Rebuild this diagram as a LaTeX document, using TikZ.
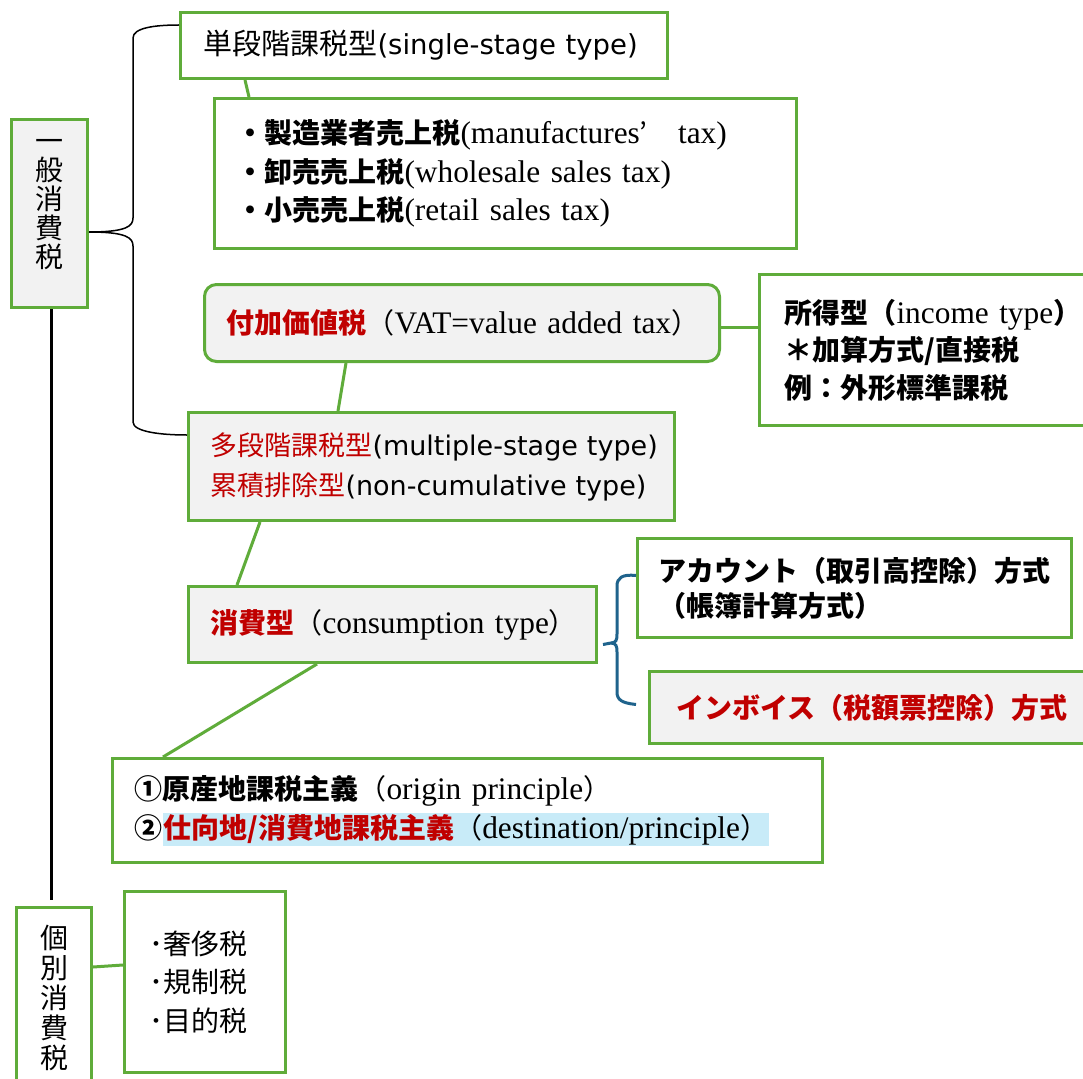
\documentclass[tikz,border=0pt]{standalone}
\usepackage{fontspec}
\setmainfont{Liberation Serif}[Scale=1.12]
\newfontfamily\jp{Noto Sans CJK JP}
\newfontfamily\dsans{DejaVu Sans}
\usetikzlibrary{calc}
\definecolor{gr}{RGB}{95,172,58}
\definecolor{bgray}{RGB}{242,242,242}
\definecolor{myred}{RGB}{192,0,0}
\definecolor{bl}{RGB}{31,99,140}
\definecolor{hl}{RGB}{200,235,248}
\setlength{\fboxsep}{1pt}
\newcommand\jb[1]{{\jp\bfseries #1}}
\newcommand\os[2]{{\dsans\fontsize{#1}{30}\selectfont #2}}
\begin{document}
\begin{tikzpicture}[x=1pt,y=-1pt,
  box/.style={draw=gr, line width=3pt, anchor=north west, inner ysep=0pt, align=left,
    font=\fontsize{28}{38}\selectfont},
  vbox/.style={draw=gr, line width=3pt, anchor=north west, inner sep=0pt, align=center},
  conn/.style={draw=gr, line width=3pt},
  brk/.style={draw=black, line width=1.5pt},
  blbr/.style={draw=bl, line width=3pt}]
\path[use as bounding box, fill=white] (0,0) rectangle (1083,1078);

% nodes
\node[vbox, fill=bgray, minimum width=76, minimum height=188,
  font=\jp\fontsize{28}{29}\selectfont] (ippan) at (10,118)
  {一\\般\\消\\費\\税\\[-9pt]\mbox{}};
\node[box, minimum width=487, minimum height=66, inner xsep=23, text width=441,
  font=\jp\fontsize{29}{34}\selectfont] (tandan) at (179,11)
  {\mbox{単段階課税型\os{27.5}{(single-stage type)}}};
\node[box, minimum width=582, minimum height=150, inner xsep=22, text width=538,
  font=\fontsize{28}{38.5}\selectfont] (bul1) at (213,97)
  {\mbox{\jb{・製造業者売上税}(manufactures{\jp ’}\hspace{20pt} tax)}\\
   \mbox{\jb{・卸売売上税}(wholesale sales tax)}\\
   \mbox{\jb{・小売売上税}(retail sales tax)}};
\node[box, fill=bgray, rounded corners=12pt, minimum width=515, minimum height=77,
  inner xsep=22, text width=471] (vat) at (203,283)
  {\mbox{\jb{\color{myred}付加価値税}{\jp （}VAT=value added tax{\jp ）}}};
\node[box, minimum width=340, minimum height=151, inner xsep=25, text width=290,
  font=\fontsize{28}{37.5}\selectfont] (shotoku) at (758,273)
  {\mbox{\jb{所得型（}income type\jb{）}}\\
   \mbox{\jb{＊加算方式/直接税}}\\
   \mbox{\jb{例：外形標準課税}}};
\node[box, fill=bgray, minimum width=486, minimum height=108, inner xsep=22, text width=442,
  font=\jp\fontsize{27}{40}\selectfont] (tadan) at (187,411)
  {\mbox{{\color{myred}多段階課税型}\os{27}{(multiple-stage type)}}\\
   \mbox{{\color{myred}累積排除型}\os{27}{(non-cumulative type)}}};
\node[box, fill=bgray, minimum width=408, minimum height=76, inner xsep=22, text width=364]
  (shohi) at (187,585)
  {\mbox{\jb{\color{myred}消費型}{\jp （}consumption type{\jp ）}}};
\node[box, minimum width=434, minimum height=99, inner xsep=21, text width=392,
  font=\fontsize{28}{35}\selectfont] (account) at (636,537)
  {\mbox{\jb{アカウント（取引高控除）方式}}\\
   \mbox{\jb{（帳簿計算方式）}}};
\node[box, fill=bgray, minimum width=440, minimum height=72, inner xsep=27, text width=386]
  (invoice) at (648,670)
  {\mbox{\jb{\color{myred}インボイス（税額票控除）方式}}};
\node[box, minimum width=710, minimum height=104, inner xsep=22, text width=666,
  font=\fontsize{28}{39}\selectfont] (origin) at (111,757)
  {\mbox{\jb{①原産地課税主義}{\jp （}origin principle{\jp ）}}\\
   \mbox{\jb{②}\colorbox{hl}{\jb{\color{myred}仕向地/消費地課税主義}{\jp （}destination/principle{\jp ）}}}};
\node[vbox, minimum width=75, minimum height=180,
  font=\jp\fontsize{28}{30}\selectfont] (kobetsu) at (15,906)
  {個\\別\\消\\費\\税};
\node[box, minimum width=161, minimum height=181, inner xsep=25, text width=111,
  font=\jp\fontsize{28}{38.5}\selectfont] (bul2) at (123,890)
  {\mbox{･奢侈税}\\ \mbox{･規制税}\\ \mbox{･目的税}};

% black brace and trunk
\coordinate (bj) at ($(ippan.north east)+(0,114)$);
\coordinate (bt) at ($(tandan.north west)+(0,14)$);
\coordinate (bb) at ($(tadan.north west)+(0,24)$);
\draw[brk] (bj) .. controls +(38,0) and +(0,8) .. (133,218) -- (133,38)
  .. controls +(0,-10) and +(-25,0) .. (bt);
\draw[brk] (bj) .. controls +(38,0) and +(0,-8) .. (133,246) -- (133,422)
  .. controls +(0,10) and +(-25,0) .. (bb);
\coordinate (vtop) at ($(ippan.south)+(2,0)$);
\coordinate (vbot) at ($(kobetsu.north)+(-2.5,-6)$);
\draw[black, line width=2.5pt] (vtop) -- (vtop |- vbot);

% green connectors
\draw[conn] ($(tandan.south west)+(66,0)$) -- ($(bul1.north west)+(36,0)$);
\draw[conn] ($(vat.south west)+(143,0)$) -- ($(tadan.north west)+(151,0)$);
\coordinate (v1) at ($(vat.east)+(0,4)$);
\draw[conn] (v1) -- (v1 -| shotoku.west);
\draw[conn] ($(tadan.south west)+(73,0)$) -- ($(shohi.north west)+(50,0)$);
\draw[conn] ($(shohi.south west)+(130,0)$) -- ($(origin.north west)+(52,0)$);
\draw[conn] ($(kobetsu.north east)+(0,61)$) -- ($(bul2.north west)+(0,75)$);

% blue brace
\coordinate (sj) at ($(shohi.east)+(5,20)$);
\coordinate (sa) at ($(account.west)+(0,-12.5)$);
\coordinate (si) at ($(invoice.west)+(-12,-3)$);
\draw[blbr] (sj) -- (611,643) .. controls (616,643) and (617,640) .. (617,634) -- (617,586)
  .. controls (617,578) and (622,574) .. (sa);
\draw[blbr] (611,643) .. controls (616,643) and (617,646) .. (617,652) -- (617,692)
  .. controls (617,700) and (622,703) .. (si);
\end{tikzpicture}
\end{document}
